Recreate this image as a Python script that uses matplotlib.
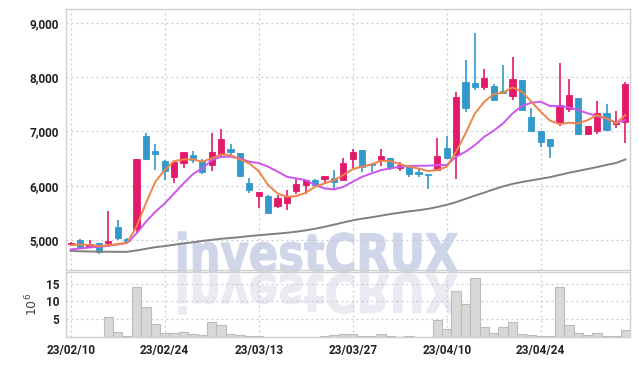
import numpy as np
import pandas as pd
import matplotlib
matplotlib.use("Agg")
import matplotlib.pyplot as plt
from matplotlib.textpath import TextPath
from matplotlib.patches import PathPatch
from matplotlib.font_manager import FontProperties
from matplotlib.transforms import Affine2D, IdentityTransform

# trading days (KRX holidays skipped)
holidays = ["2023-03-01", "2023-05-01", "2023-05-05"]
dates = pd.date_range("2023-02-10", periods=60,
                      freq=pd.offsets.CustomBusinessDay(holidays=holidays))

opens = [4920, 5010, 4870, 4945, 4945, 5245, 5020, 5210, 6915, 6640,
         6455, 6165, 6425, 6575, 6450, 6375, 6590, 6675, 6600, 6055,
         5815, 5815, 5635, 5690, 5905, 6015, 6100, 6130, 6140, 6105,
         6495, 6660, 6410, 6475, 6510, 6335, 6365, 6260, 6215, 6300,
         6705, 6565, 7920, 7900, 7810, 7845, 7740, 7655, 7940, 7270,
         7005, 6860, 7150, 7415, 7610, 6950, 7015, 7340, 7140, 7180]
highs = [4970, 5020, 5010, 4950, 5530, 5370, 5040, 6500, 6980, 6770,
         6470, 6440, 6630, 6640, 6490, 6970, 7040, 6770, 6610, 6150,
         5890, 5830, 5825, 5920, 6125, 6110, 6120, 6185, 6290, 6510,
         6680, 6665, 6420, 6670, 6520, 6445, 6370, 6320, 6225, 6875,
         6915, 7735, 8315, 8810, 8155, 7870, 8220, 8380, 7945, 7430,
         7010, 6865, 8265, 7960, 7615, 7100, 7565, 7505, 7370, 7905]
lows = [4910, 4860, 4860, 4740, 4880, 5000, 4985, 5135, 6480, 6300,
        6100, 6060, 6320, 6425, 6210, 6280, 6515, 6565, 6180, 5875,
        5600, 5500, 5600, 5555, 5845, 5850, 5985, 6060, 5920, 6100,
        6330, 6260, 6260, 6370, 6290, 6280, 6155, 6165, 5935, 6290,
        6500, 6120, 7365, 7760, 7765, 7570, 7700, 7580, 7390, 7005,
        6720, 6510, 7100, 7350, 6945, 6940, 6945, 7020, 7060, 6785]
closes = [4955, 4880, 4920, 4775, 4985, 5045, 4990, 6490, 6490, 6580,
          6270, 6435, 6620, 6470, 6260, 6620, 6855, 6630, 6185, 5920,
          5885, 5505, 5770, 5800, 6030, 6105, 6015, 6180, 6065, 6420,
          6630, 6350, 6380, 6545, 6340, 6380, 6215, 6215, 6200, 6540,
          6510, 7640, 7435, 7810, 7985, 7580, 7705, 7960, 7395, 7010,
          6815, 6740, 7485, 7670, 6950, 7095, 7340, 7025, 7155, 7875]

# moving averages as drawn on the chart
ma_short = [4908, 4920, 4908, 4890, 4908, 4926, 4950, 5245, 5680, 6075,
            6290, 6455, 6486, 6486, 6443, 6505, 6579, 6566, 6486, 6412,
            6270, 6013, 5860, 5798, 5810, 5872, 5982, 6044, 6105, 6197,
            6308, 6351, 6394, 6461, 6455, 6400, 6351, 6320, 6271, 6290,
            6351, 6627, 6965, 7333, 7548, 7690, 7714, 7812, 7732, 7548,
            7364, 7198, 7137, 7161, 7150, 7210, 7302, 7241, 7150, 7302]
ma_mid = [4829, 4847, 4865, 4877, 4896, 4920, 4950, 5123, 5338, 5522,
          5676, 5860, 6044, 6216, 6320, 6474, 6535, 6535, 6505, 6443,
          6420, 6351, 6262, 6166, 6136, 6105, 6013, 5952, 5933, 5982,
          6075, 6166, 6228, 6289, 6320, 6351, 6363, 6370, 6370, 6382,
          6382, 6535, 6628, 6750, 6904, 7015, 7150, 7334, 7468, 7530,
          7548, 7468, 7468, 7444, 7395, 7333, 7284, 7241, 7162, 7210]
ma_long = [4800, 4795, 4790, 4788, 4786, 4785, 4785, 4810, 4840, 4870,
           4890, 4915, 4940, 4960, 4985, 5005, 5025, 5040, 5055, 5075,
           5090, 5105, 5120, 5135, 5155, 5180, 5210, 5245, 5285, 5325,
           5365, 5395, 5420, 5450, 5480, 5505, 5530, 5550, 5575, 5610,
           5650, 5700, 5760, 5820, 5875, 5935, 5990, 6035, 6070, 6100,
           6130, 6160, 6200, 6240, 6275, 6310, 6345, 6385, 6420, 6485]

volume_m = [0.1, 0.1, 0.1, 0.1, 5.6, 1.4, 0.3, 13.9, 8.4, 3.75,
            1.25, 1.25, 1.5, 1.0, 0.6, 4.3, 3.5, 1.0, 0.6, 0.3,
            0.3, 0.2, 0.2, 0.2, 0.2, 0.2, 0.2, 0.3, 0.6, 1.0,
            1.0, 0.4, 0.4, 1.0, 0.4, 0.2, 0.4, 0.2, 0.2, 4.9,
            2.4, 12.9, 9.3, 16.4, 2.8, 1.25, 2.8, 4.2, 1.0, 0.6,
            0.3, 0.3, 13.9, 3.5, 1.25, 0.6, 1.25, 0.3, 0.3, 2.0]

UP = "#e3196a"
DOWN = "#3399cc"
GRID = "#c6c8dc"
FONT = ["Roboto", "DejaVu Sans"]
tick_kw = dict(family=FONT, fontsize=8.5, fontweight="bold", color="#222222")

fig = plt.figure(figsize=(6.39, 3.66), dpi=100)
ax = fig.add_axes([0.1033, 0.2623, 0.8827, 0.7131])
axv = fig.add_axes([0.1033, 0.078, 0.8827, 0.1788], sharex=ax)
for a in (ax, axv):
    a.set_facecolor("none")
    for s in a.spines.values():
        s.set_color("#d0d0d0")
        s.set_linewidth(1.0)

x = np.arange(len(closes))
o = np.array(opens); c = np.array(closes)
colors = np.where(c >= o, UP, DOWN)
body_lo = np.minimum(o, c)
body_h = np.maximum(np.abs(c - o), 20)

ax.vlines(x, lows, highs, colors=colors, linewidth=1.2, zorder=3)
ax.bar(x, body_h, bottom=body_lo, width=0.65, color=colors,
       edgecolor=colors, linewidth=0.6, zorder=4)

ax.plot(x, ma_long, color="#808080", lw=1.4, zorder=5)
ax.plot(x, ma_mid, color="#cc55ee", lw=1.4, zorder=5)
ax.plot(x, ma_short, color="#ef8448", lw=1.4, zorder=6)

ax.set_xlim(-0.5, len(x) - 0.5)
ax.set_ylim(4450, 9255)
yt = [5000, 6000, 7000, 8000, 9000]
ax.set_yticks(yt)
ax.set_yticklabels([f"{v:,}" for v in yt], **tick_kw)

tick_pos = x[::10]
tick_lab = [d.strftime("%y/%m/%d") for d in dates[::10]]
axv.set_xticks(tick_pos)
axv.set_xticklabels(tick_lab, **tick_kw)
ax.tick_params(axis="x", labelbottom=False, length=0)
ax.tick_params(axis="y", length=0, pad=5)
axv.tick_params(length=0, pad=5)

for a in (ax, axv):
    a.grid(True, color=GRID, linestyle=(0, (1.5, 2.5)), linewidth=0.9)
    a.set_axisbelow(True)

axv.bar(x, volume_m, width=1.0, color="#d8d8d8", edgecolor="#bcbcbc",
        linewidth=0.8, zorder=3)
axv.set_ylim(0, 18.2)
axv.set_yticks([5, 10, 15])
axv.set_yticklabels(["5", "10", "15"], **tick_kw)
axv.set_ylabel(r"$10^6$", fontsize=9, color="#444444", labelpad=4)

# watermark with reflection
wm_prop = FontProperties(family="DejaVu Sans", weight="bold")
tp = TextPath((0, 0), "investCRUX", size=50, prop=wm_prop)
cap = TextPath((0, 0), "X", size=50, prop=wm_prop).get_extents().height
ext = tp.get_extents()
kx = 279 / ext.width
ky = 38 / cap
H = 366
t_main = Affine2D().translate(-ext.x0, 0).scale(kx, ky).translate(178.5, H - 271.5)
t_refl = Affine2D().translate(-ext.x0, 0).scale(kx, -ky).translate(178.5, H - 274.5)
fig.patches.append(PathPatch(tp, transform=t_main + IdentityTransform(),
                             facecolor="#d0d6ea", edgecolor="#d0d6ea",
                             linewidth=0.9, zorder=-1))
fig.patches.append(PathPatch(tp, transform=t_refl + IdentityTransform(),
                             facecolor="#eaebf2", edgecolor="#eaebf2",
                             linewidth=0.9, zorder=-1))

fig.savefig("out.png", dpi=100, facecolor="white")
